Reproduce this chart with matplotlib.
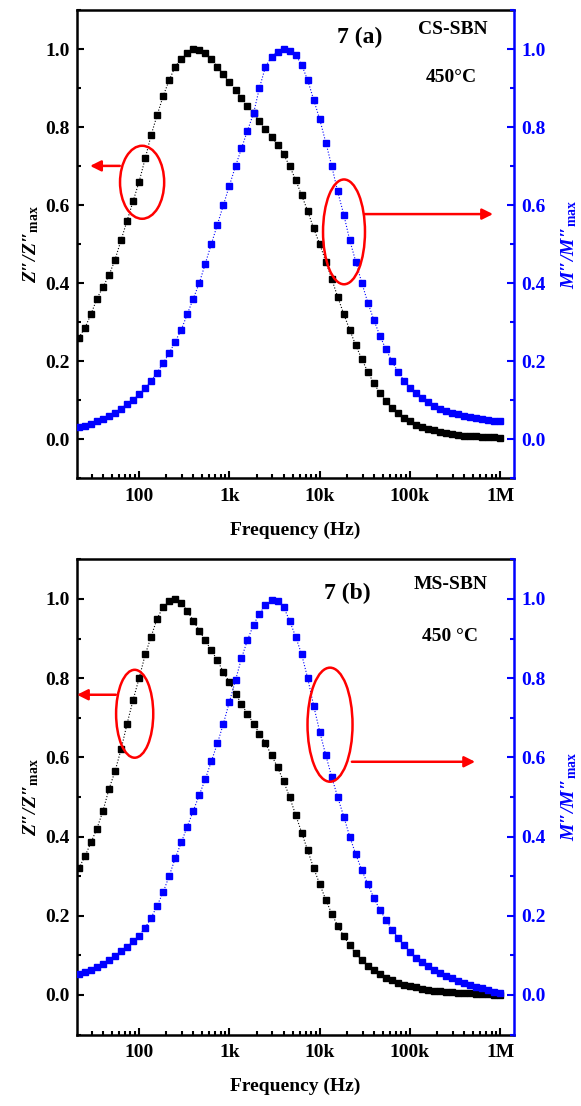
"""Normalised Z'' and M'' spectra for CS-SBN and MS-SBN at 450 C."""

import matplotlib
matplotlib.use("Agg")
import matplotlib.pyplot as plt
from matplotlib.patches import Ellipse
from matplotlib.ticker import FixedLocator, LogLocator, MultipleLocator, NullFormatter

plt.rcParams["font.family"] = ["Liberation Serif", "DejaVu Serif"]
plt.rcParams["font.weight"] = "bold"
plt.rcParams["axes.labelweight"] = "bold"
plt.rcParams["mathtext.fontset"] = "custom"
plt.rcParams["mathtext.rm"] = "Liberation Serif:bold"
plt.rcParams["mathtext.bf"] = "Liberation Serif:bold"
plt.rcParams["mathtext.it"] = "Liberation Serif:italic:bold"

# frequency sweep (Hz)
freq = [21.5, 25.1, 29.3, 34.1, 39.8, 46.4, 54.1, 63.1, 73.6, 85.8,
        100, 117, 136, 158, 185, 215, 251, 293, 341, 398, 464, 541, 631, 736, 858,
        1.00e3, 1.17e3, 1.36e3, 1.58e3, 1.85e3, 2.15e3, 2.51e3, 2.93e3, 3.41e3, 3.98e3,
        4.64e3, 5.41e3, 6.31e3, 7.36e3, 8.58e3,
        1.00e4, 1.17e4, 1.36e4, 1.58e4, 1.85e4, 2.15e4, 2.51e4, 2.93e4, 3.41e4, 3.98e4,
        4.64e4, 5.41e4, 6.31e4, 7.36e4, 8.58e4,
        1.00e5, 1.17e5, 1.36e5, 1.58e5, 1.85e5, 2.15e5, 2.51e5, 2.93e5, 3.41e5, 3.98e5,
        4.64e5, 5.41e5, 6.31e5, 7.36e5, 8.58e5,
        1.00e6]

# (a) CS-SBN
zpp_a = [0.26, 0.285, 0.32, 0.36, 0.39, 0.42, 0.46, 0.51, 0.56, 0.61,
         0.66, 0.72, 0.78, 0.83, 0.88, 0.92, 0.955, 0.975, 0.99, 1.0, 0.998, 0.99, 0.975, 0.955, 0.935,
         0.915, 0.895, 0.875, 0.855, 0.835, 0.815, 0.795, 0.775, 0.755, 0.73, 0.70, 0.665, 0.625, 0.585, 0.54,
         0.50, 0.455, 0.41, 0.365, 0.32, 0.28, 0.24, 0.205, 0.172, 0.143, 0.118, 0.097, 0.08, 0.066, 0.054,
         0.045, 0.037, 0.031, 0.026, 0.022, 0.018, 0.015, 0.013, 0.011, 0.009, 0.008, 0.007, 0.006, 0.005, 0.004,
         0.003]
mpp_a = [0.03, 0.034, 0.039, 0.045, 0.052, 0.06, 0.068, 0.078, 0.09, 0.10,
         0.115, 0.13, 0.15, 0.17, 0.195, 0.22, 0.25, 0.28, 0.32, 0.36, 0.40, 0.45, 0.50, 0.55, 0.60,
         0.65, 0.70, 0.745, 0.79, 0.835, 0.90, 0.955, 0.98, 0.993, 1.0, 0.995, 0.985, 0.96, 0.92, 0.87,
         0.82, 0.76, 0.70, 0.635, 0.575, 0.51, 0.455, 0.40, 0.35, 0.305, 0.265, 0.23, 0.20, 0.172, 0.15,
         0.132, 0.117, 0.104, 0.094, 0.085, 0.078, 0.072, 0.067, 0.063, 0.059, 0.056, 0.053, 0.051, 0.049, 0.047,
         0.045]

# (b) MS-SBN
zpp_b = [0.32, 0.35, 0.385, 0.42, 0.465, 0.52, 0.565, 0.62, 0.685, 0.745,
         0.80, 0.86, 0.905, 0.95, 0.98, 0.995, 1.0, 0.99, 0.97, 0.945, 0.92, 0.895, 0.87, 0.845, 0.815,
         0.79, 0.76, 0.735, 0.71, 0.685, 0.66, 0.635, 0.605, 0.575, 0.54, 0.50, 0.455, 0.41, 0.365, 0.32,
         0.28, 0.24, 0.205, 0.175, 0.148, 0.125, 0.105, 0.088, 0.074, 0.062, 0.052, 0.044, 0.037, 0.031, 0.026,
         0.022, 0.019, 0.016, 0.013, 0.011, 0.009, 0.008, 0.007, 0.006, 0.005, 0.004, 0.003, 0.002, 0.002, 0.001,
         0.001]
mpp_b = [0.052, 0.058, 0.064, 0.071, 0.079, 0.088, 0.098, 0.11, 0.122, 0.135,
         0.15, 0.17, 0.195, 0.225, 0.26, 0.30, 0.345, 0.385, 0.425, 0.465, 0.505, 0.545, 0.59, 0.635, 0.685,
         0.74, 0.795, 0.85, 0.895, 0.935, 0.962, 0.985, 0.998, 0.995, 0.98, 0.945, 0.905, 0.86, 0.80, 0.73,
         0.665, 0.605, 0.55, 0.50, 0.45, 0.40, 0.355, 0.315, 0.28, 0.245, 0.215, 0.19, 0.165, 0.145, 0.125,
         0.108, 0.094, 0.082, 0.072, 0.063, 0.055, 0.048, 0.042, 0.036, 0.031, 0.026, 0.021, 0.017, 0.012, 0.008,
         0.004]

xtick_vals = [1e2, 1e3, 1e4, 1e5, 1e6]
xtick_labels = ["100", "1k", "10k", "100k", "1M"]
ytick_vals = [0.0, 0.2, 0.4, 0.6, 0.8, 1.0]

FS = 14
BLUE = "#0000ff"


def draw_panel(ax, zpp, mpp, tag, sample, temp, tag_xy, sample_xy, temp_xy,
               left_mark, right_mark):
    ax.plot(freq, zpp, ls=":", lw=0.8, color="black", marker="s", ms=5,
            mec="black", mfc="black")
    ax.set_xscale("log")
    ax.set_xlim(20.5, 1.42e6)
    ax.set_ylim(-0.1, 1.1)
    ax.xaxis.set_major_locator(FixedLocator(xtick_vals))
    ax.set_xticklabels(xtick_labels)
    ax.xaxis.set_minor_locator(LogLocator(base=10, subs=range(2, 10), numticks=20))
    ax.xaxis.set_minor_formatter(NullFormatter())
    ax.set_yticks(ytick_vals)
    ax.yaxis.set_minor_locator(MultipleLocator(0.1))
    ax.tick_params(which="both", direction="in", top=False, right=False, width=1.5,
                   labelsize=FS)
    ax.tick_params(which="major", length=5)
    ax.tick_params(which="minor", length=3)
    ax.tick_params(axis="x", pad=7)
    ax.tick_params(axis="y", pad=5)
    for s in ax.spines.values():
        s.set_linewidth(1.8)
    ax.spines["right"].set_visible(False)
    ax.set_xlabel("Frequency (Hz)", fontsize=FS, fontweight="bold", labelpad=12)
    ax.set_ylabel("Z″/Z″$_{\\mathbf{max}}$", fontsize=FS, fontstyle="italic",
                  fontweight="bold", labelpad=3)

    ax2 = ax.twinx()
    ax2.plot(freq, mpp, ls=":", lw=0.8, color=BLUE, marker="s", ms=5,
             mec=BLUE, mfc=BLUE)
    ax2.set_ylim(-0.1, 1.1)
    ax2.set_yticks(ytick_vals)
    ax2.yaxis.set_minor_locator(MultipleLocator(0.1))
    ax2.tick_params(which="both", direction="in", width=1.5, colors=BLUE,
                    labelsize=FS, pad=5)
    ax2.tick_params(which="major", length=5)
    ax2.tick_params(which="minor", length=3)
    for k in ("left", "top", "bottom"):
        ax2.spines[k].set_visible(False)
    ax2.spines["right"].set_color(BLUE)
    ax2.spines["right"].set_linewidth(1.8)
    ax2.set_ylabel("M″/M″$_{\\mathbf{max}}$", fontsize=FS, fontstyle="italic",
                   fontweight="bold", color=BLUE, labelpad=10)

    ax2.text(*tag_xy, tag, transform=ax2.transAxes, fontsize=17, fontweight="bold",
             ha="center", va="center")
    ax2.text(*sample_xy, sample, transform=ax2.transAxes, fontsize=14, fontweight="bold",
             ha="center", va="center")
    ax2.text(*temp_xy, temp, transform=ax2.transAxes, fontsize=14, fontweight="bold",
             ha="center", va="center")

    # red guide marks: ellipse round the curve, arrow to the matching axis
    for (cx, cy, w, h, x0, x1, ya) in (left_mark, right_mark):
        ax2.add_patch(Ellipse((cx, cy), w, h, transform=ax2.transAxes, fill=False,
                              ec="red", lw=1.8, zorder=5))
        ax2.annotate("", xy=(x1, ya), xytext=(x0, ya), xycoords="axes fraction",
                     textcoords="axes fraction",
                     arrowprops=dict(arrowstyle="-|>", color="red", lw=1.8,
                                     mutation_scale=16, shrinkA=0, shrinkB=0),
                     zorder=5)
    return ax2


fig = plt.figure(figsize=(5.81, 11.06), dpi=100)
ax_a = fig.add_axes([0.1325, 0.5678, 0.7522, 0.4231])
ax_b = fig.add_axes([0.1325, 0.0646, 0.7522, 0.4297])

draw_panel(ax_a, zpp_a, mpp_a, "7 (a)", "CS-SBN", "450°C",
           (0.648, 0.942), (0.860, 0.959), (0.856, 0.855),
           (0.149, 0.632, 0.101, 0.156, 0.098, 0.030, 0.667),
           (0.611, 0.526, 0.096, 0.224, 0.659, 0.952, 0.564))
draw_panel(ax_b, zpp_b, mpp_b, "7 (b)", "MS-SBN", "450 °C",
           (0.618, 0.929), (0.856, 0.946), (0.854, 0.837),
           (0.132, 0.675, 0.085, 0.185, 0.089, 0.0, 0.715),
           (0.579, 0.652, 0.103, 0.240, 0.629, 0.911, 0.574))

fig.savefig("out.png", dpi=100)
